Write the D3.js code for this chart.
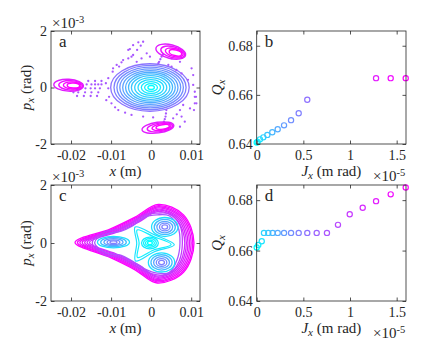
<!DOCTYPE html>
<html>
<head>
<meta charset="utf-8">
<script src="https://cdn.jsdelivr.net/npm/d3@7"></script>
<style>
  body { margin: 0; background: #fff; }
  svg text { font-family: "Liberation Serif", "DejaVu Serif", serif; fill: #262626; }
</style>
</head>
<body>
<div id="chart"></div>
<script>
// ---------- data ----------
// phase space units: x in mm, p in mrad (axes show m and x10^-3 rad)

// panel a : central tori
const aRingRx = [0.8, 1.6, 2.4, 3.2, 4.0, 4.8, 5.5, 6.2, 6.9, 7.6, 8.3, 9.0, 9.8];
const aRingRp = [0.07, 0.14, 0.21, 0.28, 0.35, 0.42, 0.48, 0.54, 0.6, 0.66, 0.72, 0.78, 0.84];
const aRingT  = [0, 0.05, 0.09, 0.14, 0.18, 0.23, 0.27, 0.32, 0.36, 0.41, 0.45, 0.5, 0.55];
// panel a : resonance islands
const aIslX = [-20.6, 4.9, 1.7];
const aIslP = [0.08, 1.27, -1.42];
const aIslRx = [3.7, 3.8, 4.0];
const aIslRp = [0.21, 0.24, 0.19];
const aIslTilt = [3, 14, -8];
const aIslScale = [1, 0.8, 0.6, 0.42];
const aIslShift = [0, 0.5, 0.9, 1.2];
const aIslT = [0.88, 0.93, 0.97, 1];
// panel a : chaotic points
const aScatX = [-16.1,-14.9,-14.0,-13.2,-12.4,-16.4,-15.1,-14.0,-12.8,-19.4,-18.2,-16.5,-14.9,-13.2,-18.5,-16.8,-15.1,-13.5,-15.7,-14.0,-12.4,
  -9.5,-8.6,-7.4,-5.7,-4.5,-3.5,-2.6,-5.3,-4.5,-3.2,-2.0,-1.1,-0.3,-2.4,-3.6,-5.7,-4.9,-7.0,-8.0,-9.6,-10.7,
  1.8,2.0,2.3,2.6,3.0,
  4.3,5.1,6.3,7.6,9.2,10.5,5.1,7.2,10.1,10.5,
  10.9,10.9,10.9,9.7,11.2,11.3,10.7,
  -10.7,-10.5,-9.9,-11.3,-11.2,
  -9.0,-8.2,-6.5,-4.9,-2.0,0.5,
  3.8,3.7,3.6,3.4,3.2,
  7.2,7.6,8.4,7.2,5.5,6.4,8.0];
const aScatP = [0.11,0.11,0.11,0.11,0.11,-0.03,-0.03,-0.03,-0.03,-0.17,-0.17,-0.17,-0.17,-0.17,-0.30,-0.30,-0.30,-0.30,0.23,0.23,0.23,
  0.68,0.80,0.89,1.03,1.15,1.33,1.48,1.36,1.5,1.6,1.62,1.21,1.09,1.03,0.91,1.33,1.09,0.97,0.74,0.56,0.33,
  0.86,0.91,1.0,1.09,1.18,
  0.8,0.74,0.62,0.5,0.27,0.09,1.03,0.91,0.68,0.44,
  -0.15,-0.33,-0.56,-0.74,-0.33,-0.56,-0.8,
  -0.03,-0.33,-0.56,0.15,-0.45,
  -0.7,-0.8,-0.89,-0.97,-1.03,-1.06,
  -0.8,-0.92,-1.03,-1.12,-1.21,
  -0.8,-1.03,-1.21,-1.39,-1.09,-0.95,-0.62];

// panel c : outer tear-drop tori
const cTearTip = [-19.0, -18.4, -17.8, -17.2, -16.6, -16.0, -15.4];
const cTearRight = [10.7, 10.4, 10.0, 9.6, 9.2, 8.8, 8.4];
const cTearTop = [1.33, 1.29, 1.25, 1.21, 1.17, 1.13, 1.09];
const cTearBot = [-1.38, -1.34, -1.30, -1.26, -1.22, -1.18, -1.14];
const cTearT = [1, 0.97, 0.94, 0.91, 0.88, 0.85, 0.82];
// panel c : tori wrapping the three islands
const cLobe1 = [[-14.7,0.02],[-11.8,0.38],[-7.6,0.5],[-5.0,0.68],[-1.5,0.98],[1.5,1.03],[4.6,1.0],[7.2,0.6],[7.8,0],
  [7.0,-0.62],[4.5,-1.07],[1.5,-1.1],[-1.5,-0.98],[-5.0,-0.7],[-7.6,-0.5],[-11.8,-0.4]];
const cLobe2 = [[-14.1,0.02],[-11.4,0.31],[-7.6,0.4],[-5.0,0.56],[-1.5,0.9],[1.5,0.97],[4.5,0.94],[6.7,0.55],[7.2,0],
  [6.5,-0.57],[4.5,-1.02],[1.5,-1.04],[-1.5,-0.9],[-5.0,-0.6],[-7.6,-0.42],[-11.4,-0.34]];
const cLobeT = [0.76, 0.68];
// panel c : third-order islands
const cIslX = [-9.4, 3.4, 2.6];
const cIslP = [0.03, 0.55, -0.67];
const cIslRx = [4.0, 3.3, 3.3];
const cIslRp = [0.2, 0.33, 0.33];
const cIslScale = [1, 0.8, 0.6, 0.4, 0.22];
const cIslT = [0.12, 0.25, 0.35, 0.45, 0.5];
// panel c : core and separatrix band
const cCoreRx = [0.6, 1.1, 1.6, 2.1];
const cCoreRp = [0.06, 0.1, 0.15, 0.2];
const cCoreT = [0, 0.02, 0.05, 0.08];
const cTri1 = [[-4.0, 0.55], [0.9, 0.28], [5.8, -0.06], [0.8, -0.3], [-3.9, -0.62], [-3.6, 0]];
const cTri2 = [[-3.5, 0.45], [0.6, 0.22], [5.0, -0.05], [0.5, -0.25], [-3.4, -0.5], [-3.0, 0]];

// panel b : tune vs action (Jx in 1e-5 m rad)
const bJx = [0, 0.01, 0.035, 0.071, 0.114, 0.167, 0.225, 0.293, 0.368, 0.45, 0.542, 1.279, 1.436, 1.597];
const bQx = [0.6406, 0.6408, 0.6419, 0.6427, 0.6437, 0.6448, 0.6460, 0.6476, 0.6497, 0.6525, 0.6580, 0.6668, 0.6668, 0.6668];
const bIdx = [0, 1, 2, 3, 4, 5, 6, 7, 8, 9, 10, 16, 17, 18];
// panel d
const dJx = [0, 0.017, 0.054, 0.078, 0.124, 0.171, 0.225, 0.293, 0.368, 0.45, 0.542, 0.643, 0.753, 0.871, 0.997, 1.136, 1.279, 1.436, 1.597];
const dQx = [0.6612, 0.6622, 0.6637, 0.6670, 0.6670, 0.6670, 0.6670, 0.6670, 0.6670, 0.6670, 0.6670, 0.6670, 0.6670, 0.6702, 0.6744, 0.6770, 0.6796, 0.6823, 0.6850];
const nTracks = 19;

// ticks
const xPhaseTicks = [-20, -10, 0, 10];
const xPhaseLabels = ["-0.02", "-0.01", "0", "0.01"];
const pTicks = [-2, 0, 2];
const pLabels = ["-2", "0", "2"];
const jTicks = [0, 0.5, 1, 1.5];
const jLabels = ["0", "0.5", "1", "1.5"];
const qTicks = [0.64, 0.66, 0.68];
const qLabels = ["0.64", "0.66", "0.68"];

// ---------- layout ----------
const width = 441, height = 353;
const colLeft = [51, 200], colRight = [256.7, 406];
const rowTop = [144, 31], rowBottom = [301, 185];
const FONT = '"Liberation Serif", "DejaVu Serif", serif';

const cool = t => d3.rgb(255 * t, 255 * (1 - t), 255).toString();

const svg = d3.select("#chart").append("svg")
    .attr("width", width)
    .attr("height", height)
    .style("font-family", FONT);

const defs = svg.append("defs");

function makePanel(id, xr, yr, xDom, yDom) {
    const x = d3.scaleLinear().domain(xDom).range(xr);
    const y = d3.scaleLinear().domain(yDom).range(yr);
    defs.append("clipPath").attr("id", "clip" + id)
        .append("rect")
        .attr("x", xr[0]).attr("y", yr[1])
        .attr("width", xr[1] - xr[0]).attr("height", yr[0] - yr[1]);
    const g = svg.append("g");
    const plot = g.append("g").attr("clip-path", "url(#clip" + id + ")");
    return {x, y, g, plot};
}

function frame(p, xt, xl, yt, yl) {
    const {x, y, g} = p;
    const y0 = y.range()[0], y1 = y.range()[1];
    const x0 = x.range()[0], x1 = x.range()[1];
    const tick = 3.5;
    const style = sel => {
        sel.attr("font-family", null).attr("font-size", null);
        sel.select(".domain").remove();
        sel.selectAll("line").attr("stroke", "#262626").attr("stroke-width", 0.8);
        sel.selectAll("text").attr("fill", "#262626")
            .style("font-family", FONT).style("font-size", "14px");
    };
    g.append("g").attr("transform", `translate(0,${y0})`)
        .call(d3.axisBottom(x).tickValues(xt).tickFormat((d, i) => xl[i]).tickSizeInner(-tick).tickSizeOuter(0).tickPadding(6))
        .call(style);
    g.append("g").attr("transform", `translate(0,${y1})`)
        .call(d3.axisTop(x).tickValues(xt).tickFormat("").tickSizeInner(-tick).tickSizeOuter(0))
        .call(style);
    g.append("g").attr("transform", `translate(${x0},0)`)
        .call(d3.axisLeft(y).tickValues(yt).tickFormat((d, i) => yl[i]).tickSizeInner(-tick).tickSizeOuter(0).tickPadding(4))
        .call(style);
    g.append("g").attr("transform", `translate(${x1},0)`)
        .call(d3.axisRight(y).tickValues(yt).tickFormat("").tickSizeInner(-tick).tickSizeOuter(0))
        .call(style);
    g.append("rect")
        .attr("x", x0).attr("y", y1)
        .attr("width", x1 - x0).attr("height", y0 - y1)
        .attr("fill", "none").attr("stroke", "#262626").attr("stroke-width", 0.8);
}

function ellipse(p, cx, cy, rx, ry, tilt, color, sw) {
    const px = p.x(cx), py = p.y(cy);
    p.plot.append("ellipse")
        .attr("cx", px).attr("cy", py)
        .attr("rx", p.x(cx + rx) - px)
        .attr("ry", py - p.y(cy + ry))
        .attr("transform", `rotate(${tilt},${px},${py})`)
        .attr("fill", "none")
        .attr("stroke", color)
        .attr("stroke-width", sw);
}

function closedCurve(p, pts, color, sw) {
    const line = d3.line()
        .x(d => p.x(d[0]))
        .y(d => p.y(d[1]))
        .curve(d3.curveCatmullRomClosed.alpha(0.5));
    p.plot.append("path")
        .attr("d", line(pts))
        .attr("fill", "none")
        .attr("stroke", color)
        .attr("stroke-width", sw);
}

function tear(tip, rgt, tp, bt) {
    const xt = 1.8, L = xt - tip;
    return [
        [tip, 0.02],
        [tip + 0.42 * L, 0.36 * tp],
        [tip + 0.72 * L, 0.67 * tp],
        [xt, tp],
        [xt + 0.707 * (rgt - xt), 0.73 * tp],
        [rgt, 0],
        [xt + 0.707 * (rgt - xt), 0.73 * bt],
        [xt - 0.3, bt],
        [tip + 0.72 * L, 0.67 * bt],
        [tip + 0.42 * L, 0.36 * bt]
    ];
}

function addParts(textSel, parts) {
    parts.forEach(s => {
        const t = textSel.append("tspan").text(s.t);
        if (s.i) t.style("font-style", "italic");
        if (s.sub) t.style("font-size", "11px").attr("dy", 3);
        if (s.back) t.attr("dy", -3);
    });
}

function labels(p, letter, xLabel, yLabel, mult, multPos) {
    const {x, y, g} = p;
    const x0 = x.range()[0], x1 = x.range()[1];
    const y0 = y.range()[0], y1 = y.range()[1];
    const cx = (x0 + x1) / 2, cy = (y0 + y1) / 2;
    g.append("text").attr("x", x0 + 8).attr("y", y1 + 16)
        .style("font-size", "17px").text(letter);

    const xt = g.append("text").attr("x", cx).attr("y", y0 + 32)
        .attr("text-anchor", "middle").style("font-size", "15px");
    addParts(xt, xLabel);

    const yt = g.append("text")
        .attr("transform", `translate(${yLabel.pos},${cy}) rotate(-90)`)
        .attr("text-anchor", "middle").style("font-size", "15px");
    addParts(yt, yLabel.parts);

    const m = g.append("text")
        .attr("x", multPos === "top" ? x0 + 1 : x1 - 33)
        .attr("y", multPos === "top" ? y1 - 3 : y0 + 37)
        .style("font-size", "15px");
    m.append("tspan").text("\u00d710");
    m.append("tspan").style("font-size", "10.5px").attr("dy", -5).text(mult);
}

const pxLabel = {pos: 31, parts: [{t: "p", i: true}, {t: "x", i: true, sub: true}, {t: " (rad)", back: true}]};
const xmLabel = [{t: "x", i: true}, {t: " (m)"}];
const jLabel = [{t: "J", i: true}, {t: "x", i: true, sub: true}, {t: " (m rad)", back: true}];
const qLabel = {pos: 222, parts: [{t: "Q", i: true}, {t: "x", i: true, sub: true}]};

// ---------- panel a ----------
const pa = makePanel("a", colLeft, rowTop, [-25, 12.2], [-2, 2]);
aRingRx.forEach((rx, i) => {
    ellipse(pa, -0.3 * i / (aRingRx.length - 1), 0, rx, aRingRp[i], 0, cool(aRingT[i]), 1.3);
});
pa.plot.selectAll("circle.scat")
    .data(aScatX)
    .enter().append("circle")
    .attr("cx", d => pa.x(d))
    .attr("cy", (d, i) => pa.y(aScatP[i]))
    .attr("r", 1.15)
    .attr("fill", cool(0.66));
aIslX.forEach((cx, k) => {
    const rad = aIslTilt[k] * Math.PI / 180;
    aIslScale.forEach((s, j) => {
        // nested rings move along the island axis
        const dx = aIslShift[j] * Math.cos(rad);
        ellipse(pa, cx + dx, aIslP[k] - (pa.x(cx + dx) - pa.x(cx)) * Math.tan(rad) / (pa.y(0) - pa.y(1)),
            aIslRx[k] * s, aIslRp[k] * s, aIslTilt[k], cool(aIslT[j]), 1.4);
    });
});
frame(pa, xPhaseTicks, xPhaseLabels, pTicks, pLabels);
labels(pa, "a", xmLabel, pxLabel, "-3", "top");

// ---------- panel c ----------
const pc = makePanel("c", colLeft, rowBottom, [-25, 12.2], [-2, 2]);
cTearTip.forEach((tip, i) => {
    closedCurve(pc, tear(tip, cTearRight[i], cTearTop[i], cTearBot[i]), cool(cTearT[i]), 1.3);
});
closedCurve(pc, cLobe1, cool(cLobeT[0]), 1.3);
closedCurve(pc, cLobe2, cool(cLobeT[1]), 1.3);
closedCurve(pc, cTri1, cool(0.12), 1.2);
closedCurve(pc, cTri2, cool(0.06), 1.2);
cIslX.forEach((cx, k) => {
    cIslScale.forEach((s, j) => {
        ellipse(pc, cx, cIslP[k], cIslRx[k] * s, cIslRp[k] * s, 0, cool(cIslT[j]), 1.3);
    });
});
cCoreRx.forEach((rx, i) => {
    ellipse(pc, -0.3, 0, rx, cCoreRp[i], 0, cool(cCoreT[i]), 1.3);
});
frame(pc, xPhaseTicks, xPhaseLabels, pTicks, pLabels);
labels(pc, "c", xmLabel, pxLabel, "-3", "top");

// ---------- panel b ----------
const pb = makePanel("b", colRight, rowTop, [0, 1.6], [0.64, 0.686]);
pb.g.selectAll("circle.pt")
    .data(bJx)
    .enter().append("circle")
    .attr("cx", d => pb.x(d))
    .attr("cy", (d, i) => pb.y(bQx[i]))
    .attr("r", 2.6)
    .attr("fill", "none")
    .attr("stroke-width", 1.2)
    .attr("stroke", (d, i) => cool(bIdx[i] / (nTracks - 1)));
frame(pb, jTicks, jLabels, qTicks, qLabels);
labels(pb, "b", jLabel, qLabel, "-5", "bottom");

// ---------- panel d ----------
const pd = makePanel("d", colRight, rowBottom, [0, 1.6], [0.64, 0.686]);
pd.g.selectAll("circle.pt")
    .data(dJx)
    .enter().append("circle")
    .attr("cx", d => pd.x(d))
    .attr("cy", (d, i) => pd.y(dQx[i]))
    .attr("r", 2.6)
    .attr("fill", "none")
    .attr("stroke-width", 1.2)
    .attr("stroke", (d, i) => cool(i / (nTracks - 1)));
frame(pd, jTicks, jLabels, qTicks, qLabels);
labels(pd, "d", jLabel, qLabel, "-5", "bottom");
</script>
</body>
</html>
